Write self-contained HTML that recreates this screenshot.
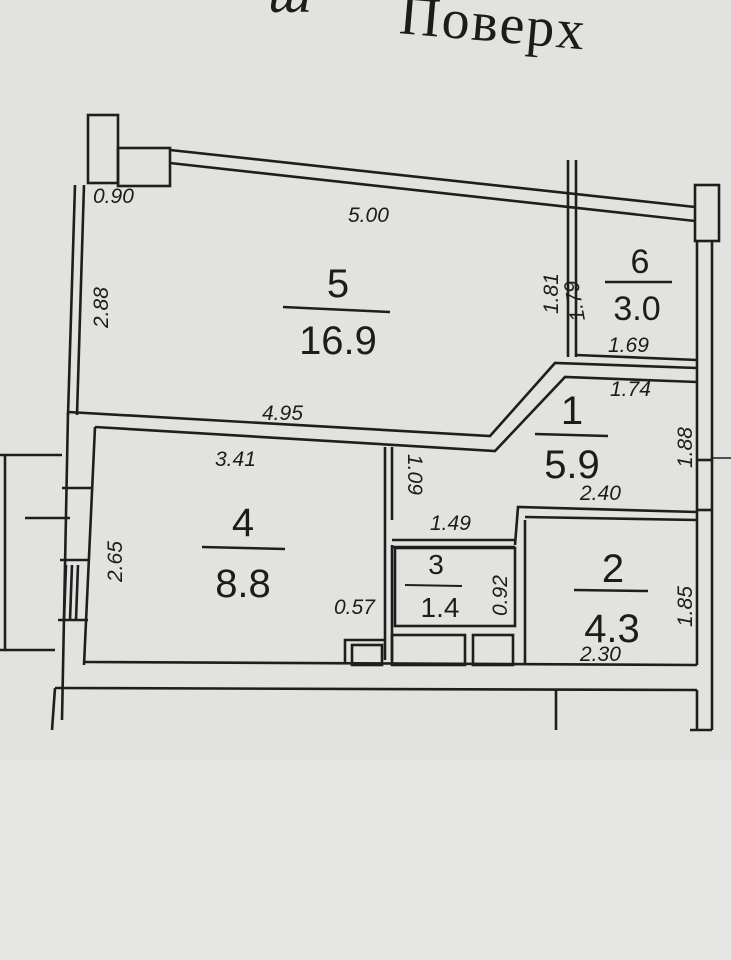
<!DOCTYPE html>
<html><head><meta charset="utf-8"><style>
html,body{margin:0;padding:0;background:#e2e2df;}
svg{display:block}
text{font-family:"Liberation Sans",sans-serif;fill:#1c1c1c}
.d{font-size:21px;font-style:italic}
.b{font-size:40px}
</style></head><body>
<svg width="731" height="960" viewBox="0 0 731 960" xmlns="http://www.w3.org/2000/svg">
<rect width="731" height="960" fill="#e2e2df"/>
<rect x="0" y="760" width="731" height="200" fill="#e5e5e3"/>
<text x="268" y="12" style="font-family:'Liberation Serif',serif;font-size:58px;font-style:italic">ш</text>
<text x="398" y="42" transform="rotate(5 500 40)" style="font-family:'Liberation Serif',serif;font-size:56px;letter-spacing:2px">Поверх</text>
<g fill="none" stroke="#1e1e1e" stroke-width="2.6">
<rect x="88" y="115" width="30" height="68"/>
<rect x="118" y="148" width="52" height="38"/>
<line x1="170" y1="150" x2="695" y2="207"/>
<line x1="170" y1="163" x2="695" y2="221"/>
<rect x="695" y="185" width="24" height="56"/>
<line x1="75" y1="185" x2="68" y2="415"/>
<line x1="84" y1="185" x2="77" y2="415"/>
<polyline points="68,412 490,436 555,363 697,368"/>
<polyline points="95,427 495,451 565,377 697,382"/>
<line x1="568" y1="160" x2="568" y2="357"/>
<line x1="576" y1="160" x2="576" y2="357"/>
<line x1="576" y1="355" x2="697" y2="360"/>
<line x1="697" y1="240" x2="697" y2="665"/>
<line x1="712" y1="240" x2="712" y2="730"/>
<line x1="697" y1="460" x2="712" y2="460"/>
<line x1="697" y1="510" x2="712" y2="510"/>
<line x1="68" y1="412" x2="62" y2="720"/>
<line x1="95" y1="427" x2="84" y2="665"/>
<line x1="62" y1="488" x2="92" y2="488"/>
<line x1="60" y1="560" x2="90" y2="560"/>
<line x1="58" y1="620" x2="88" y2="620"/>
<line x1="66" y1="565" x2="64" y2="620"/>
<line x1="72" y1="565" x2="70" y2="620"/>
<line x1="78" y1="565" x2="76" y2="620"/>
<polyline points="0,455 5,455 5,650 0,650"/>
<line x1="5" y1="455" x2="62" y2="455"/>
<line x1="5" y1="650" x2="55" y2="650"/>
<line x1="25" y1="518" x2="70" y2="518"/>
<line x1="84" y1="662" x2="697" y2="665"/>
<line x1="55" y1="688" x2="697" y2="690"/>
<line x1="55" y1="688" x2="52" y2="730"/>
<line x1="556" y1="690" x2="556" y2="730"/>
<line x1="697" y1="690" x2="697" y2="730"/>
<line x1="712" y1="730" x2="690" y2="730"/>
<line x1="385" y1="447" x2="385" y2="660"/>
<line x1="392" y1="447" x2="392" y2="520"/>
<line x1="392" y1="545" x2="392" y2="660"/>
<line x1="392" y1="540" x2="515" y2="540"/>
<line x1="392" y1="547" x2="515" y2="547"/>
<rect x="395" y="548" width="120" height="78"/>
<polyline points="515,545 518,507 697,512"/>
<polyline points="525,520 525,665"/>
<line x1="525" y1="517" x2="697" y2="520"/>
<polyline points="345,662 345,640 385,640"/>
<rect x="352" y="645" width="30" height="20"/>
<rect x="392" y="635" width="73" height="30"/>
<rect x="473" y="635" width="40" height="30"/>
</g>
<g>
<text class="d" x="93" y="203">0.90</text>
<text class="d" x="348" y="222">5.00</text>
<text class="d" transform="translate(108,328) rotate(-90)">2.88</text>
<text class="d" transform="translate(558,314) rotate(-90)">1.81</text>
<text class="d" transform="translate(585,320) rotate(-100)">1.79</text>
<text class="d" x="608" y="352">1.69</text>
<text class="d" x="610" y="396">1.74</text>
<text class="d" transform="translate(692,468) rotate(-90)">1.88</text>
<text class="d" x="262" y="420">4.95</text>
<text class="d" x="215" y="466">3.41</text>
<text class="d" transform="translate(408,454) rotate(90)">1.09</text>
<text class="d" x="430" y="530">1.49</text>
<text class="d" x="580" y="500">2.40</text>
<text class="d" transform="translate(122,582) rotate(-90)">2.65</text>
<text class="d" x="334" y="614">0.57</text>
<text class="d" transform="translate(507,616) rotate(-90)">0.92</text>
<text class="d" transform="translate(692,627) rotate(-90)">1.85</text>
<text class="d" x="580" y="661">2.30</text>
<text class="b" x="338" y="297" text-anchor="middle">5</text>
<line x1="283" y1="307" x2="390" y2="312" stroke="#1e1e1e" stroke-width="2.5"/>
<text class="b" x="338" y="354" text-anchor="middle">16.9</text>
<text class="b" x="640" y="273" text-anchor="middle" style="font-size:34px">6</text>
<line x1="605" y1="282" x2="672" y2="282" stroke="#1e1e1e" stroke-width="2.5"/>
<text class="b" x="637" y="320" text-anchor="middle" style="font-size:34px">3.0</text>
<text class="b" x="572" y="424" text-anchor="middle">1</text>
<line x1="535" y1="434" x2="608" y2="436" stroke="#1e1e1e" stroke-width="2.5"/>
<text class="b" x="572" y="478" text-anchor="middle">5.9</text>
<text class="b" x="243" y="536" text-anchor="middle">4</text>
<line x1="202" y1="547" x2="285" y2="549" stroke="#1e1e1e" stroke-width="2.5"/>
<text class="b" x="243" y="597" text-anchor="middle">8.8</text>
<text class="b" x="436" y="574" text-anchor="middle" style="font-size:28px">3</text>
<line x1="405" y1="585" x2="462" y2="586" stroke="#1e1e1e" stroke-width="2"/>
<text class="b" x="440" y="617" text-anchor="middle" style="font-size:28px">1.4</text>
<text class="b" x="613" y="582" text-anchor="middle">2</text>
<line x1="574" y1="590" x2="648" y2="591" stroke="#1e1e1e" stroke-width="2.5"/>
<text class="b" x="612" y="642" text-anchor="middle">4.3</text>
<line x1="712" y1="458" x2="731" y2="458" stroke="#1e1e1e" stroke-width="1.5"/>
</g>
</svg>
</body></html>
